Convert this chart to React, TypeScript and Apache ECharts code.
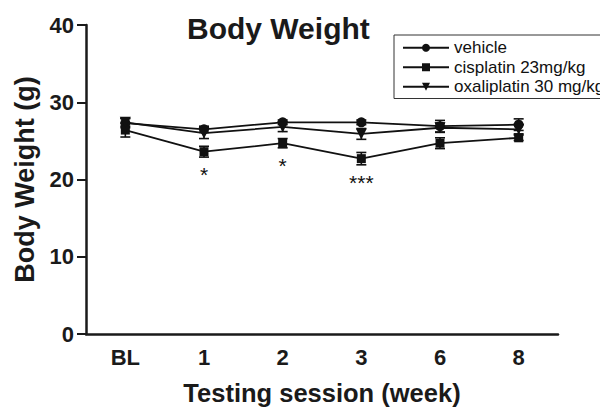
import React, { useEffect, useRef } from "react";
import * as echarts from "echarts";

const categories = ["BL", "1", "2", "3", "6", "8"];
const vehicleMean = [27.3, 26.5, 27.4, 27.4, 26.9, 27.1];
const vehicleSem = [0.6, 0.4, 0.3, 0.3, 0.75, 0.75];
const cisplatinMean = [26.4, 23.6, 24.7, 22.7, 24.7, 25.4];
const cisplatinSem = [0.9, 0.7, 0.6, 0.8, 0.7, 0.35];
const oxaliplatinMean = [27.4, 26.0, 26.8, 25.9, 26.7, 26.5];
const oxaliplatinSem = [0.5, 0.7, 0.6, 0.7, 0.6, 0.6];
const significance = ["", "*", "*", "***", "", ""];

const seriesNames = ["vehicle", "cisplatin 23mg/kg", "oxaliplatin 30 mg/kg"];
const FONT = "'Liberation Sans', Arial, Helvetica, sans-serif";

function errData(mean: number[], sem: number[]) {
  return mean.map((m, i) => [i, m - sem[i], m + sem[i]]);
}

function errorSeries(mean: number[], sem: number[]) {
  return {
    type: "custom",
    silent: true,
    z: 3,
    data: errData(mean, sem),
    renderItem: (params: any, api: any) => {
      const x = api.value(0);
      const lo = api.coord([x, api.value(1)]);
      const hi = api.coord([x, api.value(2)]);
      const w = 5;
      const style = { stroke: "#111", lineWidth: 1.6 };
      return {
        type: "group",
        children: [
          { type: "line", shape: { x1: lo[0], y1: lo[1], x2: hi[0], y2: hi[1] }, style },
          { type: "line", shape: { x1: lo[0] - w, y1: lo[1], x2: lo[0] + w, y2: lo[1] }, style },
          { type: "line", shape: { x1: hi[0] - w, y1: hi[1], x2: hi[0] + w, y2: hi[1] }, style },
        ],
      };
    },
  };
}

export default function App() {
  const ref = useRef<HTMLDivElement>(null);
  useEffect(() => {
    document.body.style.margin = "0";
    const chart = echarts.init(ref.current!, null, { renderer: "svg" });
    const lineCommon = {
      type: "line",
      z: 4,
      lineStyle: { color: "#111", width: 1.8 },
      itemStyle: { color: "#111" },
    };
    chart.setOption({
      animation: false,
      backgroundColor: "#fff",
      title: {
        text: "Body Weight",
        left: 182,
        top: 8,
        textStyle: { fontFamily: FONT, fontSize: 30, fontWeight: "bold", color: "#1a1a1a" },
      },
      legend: {
        orient: "vertical",
        left: 394,
        top: 35,
        padding: [3, 8, 2, 8],
        borderColor: "#333",
        borderWidth: 1,
        itemWidth: 46,
        itemHeight: 10,
        itemGap: 0,
        data: seriesNames,
        textStyle: { fontFamily: FONT, fontSize: 17, color: "#111", lineHeight: 19.5 },
      },
      grid: { left: 86, right: 42, top: 25, bottom: 71 },
      xAxis: {
        type: "category",
        data: categories,
        boundaryGap: true,
        name: "Testing session (week)",
        nameLocation: "middle",
        nameGap: 46,
        nameTextStyle: { fontFamily: FONT, fontSize: 25.5, fontWeight: "bold", color: "#1a1a1a" },
        axisLine: { lineStyle: { color: "#1a1a1a", width: 2.5 } },
        axisTick: { alignWithLabel: true, length: 8, lineStyle: { width: 2, color: "#1a1a1a" } },
        axisLabel: { fontFamily: FONT, fontSize: 22, fontWeight: "bold", color: "#1a1a1a", margin: 12 },
        splitLine: { show: false },
      },
      yAxis: {
        type: "value",
        min: 0,
        max: 40,
        interval: 10,
        name: "Body Weight (g)",
        nameLocation: "middle",
        nameGap: 44,
        nameTextStyle: { fontFamily: FONT, fontSize: 27, fontWeight: "bold", color: "#1a1a1a" },
        axisLine: { show: true, lineStyle: { color: "#1a1a1a", width: 2.5 } },
        axisTick: { show: true, length: 9, lineStyle: { width: 2, color: "#1a1a1a" } },
        axisLabel: { fontFamily: FONT, fontSize: 22, fontWeight: "bold", color: "#1a1a1a", margin: 12 },
        splitLine: { show: false },
      },
      series: [
        { ...lineCommon, name: seriesNames[0], data: vehicleMean, symbol: "circle", symbolSize: 10 },
        { ...lineCommon, name: seriesNames[1], data: cisplatinMean, symbol: "rect", symbolSize: 9 },
        {
          ...lineCommon,
          name: seriesNames[2],
          data: oxaliplatinMean,
          symbol: "triangle",
          symbolSize: 11,
          symbolRotate: 180,
        },
        errorSeries(vehicleMean, vehicleSem),
        errorSeries(cisplatinMean, cisplatinSem),
        errorSeries(oxaliplatinMean, oxaliplatinSem),
        {
          type: "custom",
          silent: true,
          data: cisplatinMean.map((m, i) => [i, m - cisplatinSem[i]]),
          renderItem: (params: any, api: any) => {
            const i = api.value(0);
            const label = significance[i];
            if (!label) return null;
            const p = api.coord([i, api.value(1)]);
            return {
              type: "text",
              x: p[0],
              y: p[1] + 7,
              style: {
                text: label,
                fontFamily: FONT,
                fontSize: 21,
                fill: "#111",
                align: "center",
                verticalAlign: "top",
              },
            };
          },
        },
      ],
    });
    return () => chart.dispose();
  }, []);
  return <div ref={ref} style={{ width: 600, height: 411 }} />;
}
